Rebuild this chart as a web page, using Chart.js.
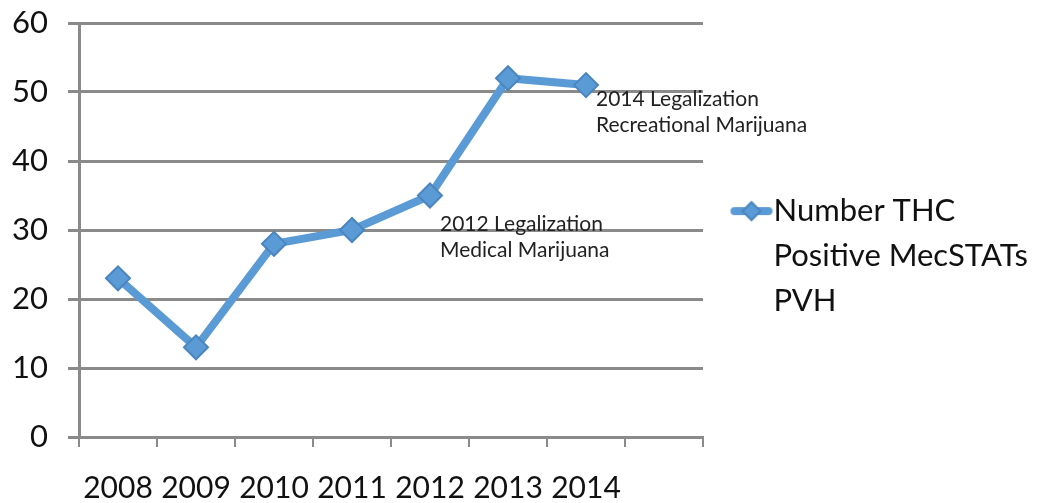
<!DOCTYPE html>
<html>
<head>
<meta charset="utf-8">
<script src="https://cdn.jsdelivr.net/npm/chart.js@4/dist/chart.umd.min.js"></script>
<style>
  html, body { margin: 0; padding: 0; background: #fff; }
  #wrap { width: 1044px; height: 503px; position: relative; }
</style>
</head>
<body>
<div id="wrap"><canvas id="thcChart"></canvas></div>
<script>
// Dados do gráfico
const years = ['2008', '2009', '2010', '2011', '2012', '2013', '2014', ''];
const thcPositive = [23, 13, 28, 30, 35, 52, 51];
const seriesLabel = ['Number THC', 'Positive MecSTATs', 'PVH'];
const yTicks = [0, 10, 20, 30, 40, 50, 60];

// Notas sobre a legalização
const noteYears = ['2012', '2014'];
const noteLines = [
    ['2012 Legalization', 'Medical Marijuana'],
    ['2014 Legalization', 'Recreational Marijuana']
];

const blue = '#5b9bd5';
const blueDark = '#4a85c0';
const gridGray = '#8a8a8a';
const tickFont = 'Lato, sans-serif';

// Símbolo da legenda: linha com losango (deslocado para a direita)
function legendSymbol() {
    const c = document.createElement('canvas');
    c.width = 64; c.height = 24;
    const g = c.getContext('2d');
    g.strokeStyle = blue;
    g.lineWidth = 8;
    g.lineCap = 'round';
    g.beginPath();
    g.moveTo(24, 12); g.lineTo(58, 12);
    g.stroke();
    g.fillStyle = blue;
    g.strokeStyle = blueDark;
    g.lineWidth = 2;
    g.beginPath();
    g.moveTo(41, 3); g.lineTo(50, 12); g.lineTo(41, 21); g.lineTo(32, 12);
    g.closePath();
    g.fill(); g.stroke();
    return c;
}

const notesPlugin = {
    id: 'notes',
    afterDatasetsDraw(chart) {
        const ctx = chart.ctx;
        const xs = chart.scales.x, ys = chart.scales.y;
        ctx.save();
        ctx.fillStyle = '#222';
        ctx.font = '21px Lato, sans-serif';
        ctx.textBaseline = 'alphabetic';
        ctx.textAlign = 'left';
        noteYears.forEach((yr, i) => {
            const idx = years.indexOf(yr);
            const px = xs.getPixelForValue(idx) + 10;
            const py = ys.getPixelForValue(thcPositive[idx]) + (i === 0 ? 35 : 21);
            noteLines[i].forEach((line, j) => ctx.fillText(line, px, py + j * 26));
        });
        ctx.restore();
    }
};

// Largura fixa da legenda
const legendWidthPlugin = {
    id: 'legendWidth',
    afterInit(chart) {
        const lg = chart.legend;
        const fit = lg.fit.bind(lg);
        lg.fit = function() { fit(); this.width = 341; };
    }
};

const ctx = document.getElementById('thcChart').getContext('2d');
const thcChart = new Chart(ctx, {
    type: 'line',
    data: {
        labels: years,
        datasets: [{
            label: seriesLabel,
            data: thcPositive,
            borderColor: blue,
            borderWidth: 8,
            backgroundColor: blue,
            pointStyle: 'rectRot',
            pointRadius: 12,
            pointBackgroundColor: blue,
            pointBorderColor: blueDark,
            pointBorderWidth: 2,
            tension: 0,
            fill: false
        }]
    },
    plugins: [notesPlugin, legendWidthPlugin],
    options: {
        responsive: true,
        maintainAspectRatio: false,
        animation: false,
        layout: { padding: { top: 23, right: 0, left: 0, bottom: 0 } },
        plugins: {
            tooltip: { enabled: false },
            legend: {
                position: 'right',
                align: 'center',
                labels: {
                    usePointStyle: true,
                    pointStyle: legendSymbol(),
                    color: '#111',
                    font: { family: 'Lato, sans-serif', size: 31, lineHeight: 1.45 },
                    padding: 24
                }
            }
        },
        scales: {
            y: {
                min: 0,
                max: 60,
                afterFit(scale) {
                    scale.width = 79;
                    scale.paddingTop = 0;
                    scale.paddingBottom = 0;
                },
                afterBuildTicks(scale) { scale.ticks = yTicks.map(v => ({ value: v })); },
                ticks: {
                    color: '#111',
                    padding: 20,
                    font: { family: tickFont, size: 31 }
                },
                grid: { color: gridGray, lineWidth: 3, tickLength: 11 },
                border: { color: gridGray, width: 3 }
            },
            x: {
                offset: true,
                afterFit(scale) { scale.height = 66; },
                ticks: {
                    color: '#111',
                    padding: 23,
                    maxRotation: 0,
                    autoSkip: false,
                    font: { family: tickFont, size: 30 }
                },
                grid: {
                    offset: true,
                    drawOnChartArea: false,
                    color: gridGray,
                    lineWidth: 2,
                    tickLength: 10
                },
                border: { color: gridGray, width: 3 }
            }
        }
    }
});
</script>
</body>
</html>
